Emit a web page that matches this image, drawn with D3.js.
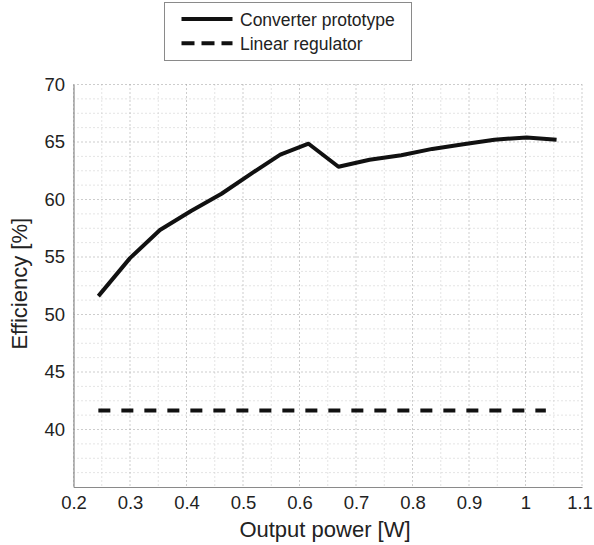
<!DOCTYPE html>
<html>
<head>
<meta charset="utf-8">
<script src="https://cdn.jsdelivr.net/npm/d3@7"></script>
<style>
  body { margin: 0; background: #fff; }
  text { font-family: "Liberation Sans", Arial, sans-serif; }
</style>
</head>
<body>
<div id="chart-area"></div>
<script>
// output power [W] and efficiency [%]
const powerW = [0.244, 0.300, 0.353, 0.408, 0.462, 0.516, 0.566, 0.616, 0.669, 0.724, 0.780, 0.835, 0.890, 0.945, 1.002, 1.055];
const converterEff = [51.6, 54.9, 57.35, 59.0, 60.5, 62.3, 63.9, 64.85, 62.85, 63.45, 63.85, 64.4, 64.8, 65.2, 65.4, 65.2];
const regulatorP = [0.244, 1.036];
const regulatorEff = [41.65, 41.65];

const xTicks = [0.2, 0.3, 0.4, 0.5, 0.6, 0.7, 0.8, 0.9, 1, 1.1];
const yTicks = [40, 45, 50, 55, 60, 65, 70];
const legendLabels = ['Converter prototype', 'Linear regulator'];

const margin = { left: 73.5, right: 12, top: 84.5, bottom: 58 };
const W = 594, H = 545;
const width = W - margin.left - margin.right;
const height = H - margin.top - margin.bottom;

const x = d3.scaleLinear().domain([0.2, 1.1]).range([0, width]);
const y = d3.scaleLinear().domain([35, 70]).range([height, 0]);

const svg = d3.select('#chart-area').append('svg')
  .attr('width', W)
  .attr('height', H);

const g = svg.append('g')
  .attr('transform', `translate(${margin.left}, ${margin.top})`);

// minor grid
const xMinor = d3.range(0.25, 1.1, 0.1);
const yMinor = d3.range(35, 70.01, 1.25).filter(v => Math.abs(v % 5) > 0.01);

g.selectAll('.vminor').data(xMinor).enter().append('line')
  .attr('x1', d => x(d)).attr('x2', d => x(d))
  .attr('y1', 0).attr('y2', height)
  .attr('stroke', '#c8c8c8').attr('stroke-dasharray', '1,3');

g.selectAll('.hminor').data(yMinor).enter().append('line')
  .attr('y1', d => y(d)).attr('y2', d => y(d))
  .attr('x1', 0).attr('x2', width)
  .attr('stroke', '#c8c8c8').attr('stroke-dasharray', '1,3');

// major grid
g.selectAll('.vmajor').data(xTicks).enter().append('line')
  .attr('x1', d => x(d)).attr('x2', d => x(d))
  .attr('y1', 0).attr('y2', height)
  .attr('stroke', '#9a9a9a').attr('stroke-dasharray', '1,3');

g.selectAll('.hmajor').data(yTicks).enter().append('line')
  .attr('y1', d => y(d)).attr('y2', d => y(d))
  .attr('x1', 0).attr('x2', width)
  .attr('stroke', '#9a9a9a').attr('stroke-dasharray', '1,3');

// axes
const xAxis = g.append('g')
  .attr('transform', `translate(0, ${height})`)
  .call(d3.axisBottom(x).tickValues(xTicks).tickFormat(d3.format('')).tickSize(0).tickPadding(9));
const yAxis = g.append('g')
  .call(d3.axisLeft(y).tickValues(yTicks).tickSize(0).tickPadding(8.5));

[xAxis, yAxis].forEach(a => {
  a.select('.domain').attr('stroke', '#8a8a8a').attr('stroke-width', 1.2);
  a.selectAll('text').attr('font-size', 18.5).attr('fill', '#222')
    .attr('font-family', '"Liberation Sans", Arial, sans-serif');
});
// keep the last label inside the page, as in the original
xAxis.selectAll('.tick').filter(d => d === 1.1).select('text').attr('dx', -2.5);

// series
const line = d3.line().x(d => x(d[0])).y(d => y(d[1]));

g.append('path')
  .datum(regulatorP.map((p, i) => [p, regulatorEff[i]]))
  .attr('d', line)
  .attr('fill', 'none')
  .attr('stroke', '#111')
  .attr('stroke-width', 4)
  .attr('stroke-dasharray', '12,11');

g.append('path')
  .datum(powerW.map((p, i) => [p, converterEff[i]]))
  .attr('d', line)
  .attr('fill', 'none')
  .attr('stroke', '#111')
  .attr('stroke-width', 4)
  .attr('stroke-linejoin', 'round');

// axis labels
svg.append('text')
  .attr('x', 325)
  .attr('y', 537)
  .attr('text-anchor', 'middle')
  .attr('font-size', 22)
  .attr('fill', '#222')
  .text('Output power [W]');

svg.append('text')
  .attr('transform', `translate(27, ${margin.top + height / 2 - 2}) rotate(-90)`)
  .attr('text-anchor', 'middle')
  .attr('font-size', 22)
  .attr('fill', '#222')
  .text('Efficiency [%]');

// legend
const legend = svg.append('g').attr('transform', 'translate(164.5, 2.5)');
legend.append('rect')
  .attr('width', 247).attr('height', 58)
  .attr('fill', '#fff').attr('stroke', '#8a8a8a');

legendLabels.forEach((label, i) => {
  const ly = 16.5 + i * 24.3;
  legend.append('line')
    .attr('x1', 17).attr('x2', 68)
    .attr('y1', ly).attr('y2', ly)
    .attr('stroke', '#111').attr('stroke-width', 4)
    .attr('stroke-dasharray', i === 1 ? '13,7' : null);
  legend.append('text')
    .attr('x', 75.5).attr('y', ly + 6.5)
    .attr('font-size', 17.5)
    .attr('fill', '#222')
    .text(label);
});
</script>
</body>
</html>
